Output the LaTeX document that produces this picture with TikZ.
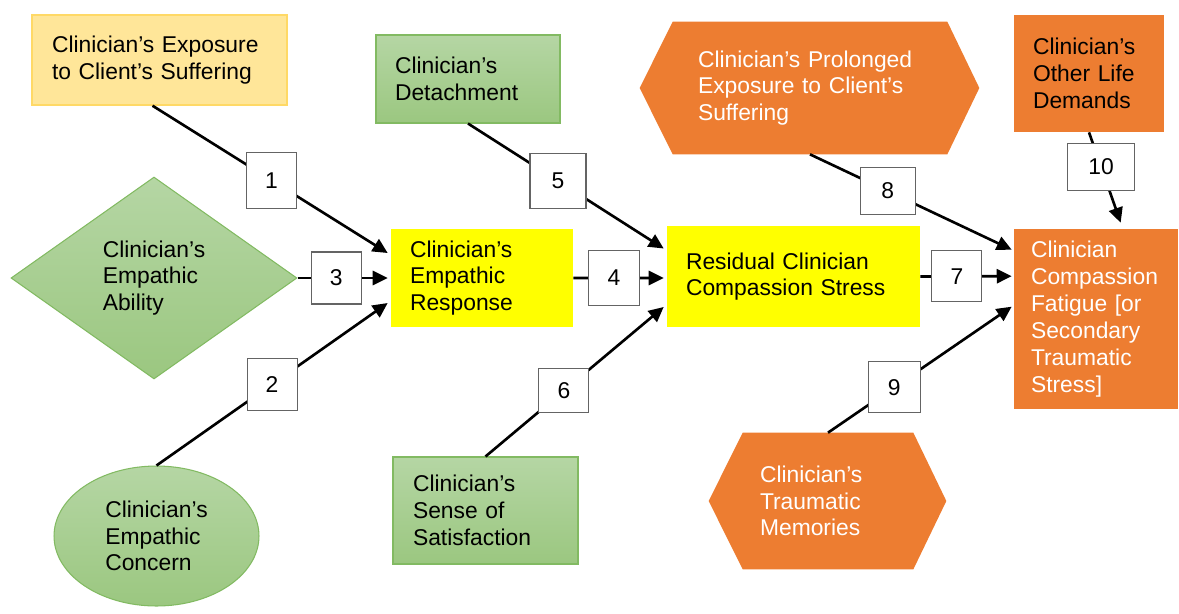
\documentclass[tikz,border=0pt]{standalone}
\usepackage{fontspec}
\setmainfont{Liberation Sans}
\usetikzlibrary{shapes.geometric,arrows.meta,calc}
\pgfdeclarelayer{bg}
\pgfsetlayers{bg,main}
\definecolor{cexp}{RGB}{255,230,153}
\definecolor{cexpb}{RGB}{255,217,102}
\definecolor{gtop}{RGB}{181,214,164}
\definecolor{gbot}{RGB}{155,199,128}
\definecolor{gbord}{RGB}{130,186,98}
\definecolor{cyel}{RGB}{255,255,0}
\definecolor{corg}{RGB}{237,125,49}
\definecolor{cnum}{RGB}{100,100,100}
\hyphenpenalty=10000
\exhyphenpenalty=10000
\begin{document}
\begin{tikzpicture}[x=0.02cm,y=-0.02cm,
  every node/.style={font=\fontsize{13pt}{15.2pt}\selectfont},
  box/.style={rectangle, align=left, inner ysep=0pt},
  greenfill/.style={top color=gtop, bottom color=gbot, draw=gbord, line width=0.6pt},
  expbox/.style={box, fill=cexp, draw=cexpb, line width=0.8pt},
  greenbox/.style={box, greenfill},
  yelbox/.style={box, fill=cyel},
  orgbox/.style={box, fill=corg},
  hexbox/.style={box, text=white},
  numbox/.style={draw=cnum, fill=white, line width=0.6pt, minimum width=1cm, minimum height=1.04cm, inner sep=0pt, text=black},
  conn/.style={line width=1.5pt, -{Triangle[length=8.5pt,width=8pt]}}]
\useasboundingbox (0,0) rectangle (1179,613);

% main nodes
\node[expbox, minimum height=1.8cm, inner xsep=0.4cm, text width=4.3cm] (exp) at (159.5,60) {Clinician’s Exposure\\to Client’s Suffering};
\node[greenbox, minimum height=1.76cm, inner xsep=0.38cm, text width=2.92cm] (det) at (468,79) {Clinician’s\\Detachment};
\node[diamond, greenfill, minimum width=5.72cm, minimum height=4.04cm, inner sep=0pt, align=left] (dia) at (154,278) {Clinician’s\\Empathic\\Ability};
\node[ellipse, greenfill, minimum width=4.1cm, minimum height=2.8cm, inner sep=0pt, align=left] (ell) at (156.5,536) {Clinician’s\\Empathic\\Concern};
\node[yelbox, minimum height=1.96cm, inner xsep=0.38cm, text width=2.88cm] (resp) at (482,278) {Clinician’s\\Empathic\\Response};
\node[yelbox, minimum height=2.02cm, inner xsep=0.38cm, text width=4.3cm] (stress) at (793.5,276.5) {Residual Clinician\\Compassion Stress};
\node[greenbox, minimum height=2.14cm, inner xsep=0.4cm, text width=2.9cm] (sat) at (485.5,510.5) {Clinician’s\\Sense of\\Satisfaction};
\node[hexbox, minimum height=2.64cm, inner xsep=0.5cm, text width=4.48cm] (prol) at (810,88) {Clinician’s Prolonged\\Exposure to Client’s\\Suffering};
\node[hexbox, minimum height=2.72cm, inner xsep=0.34cm, text width=2.72cm] (trau) at (828,501) {Clinician’s\\Traumatic\\Memories};
\node[orgbox, minimum height=2.34cm, inner xsep=0.38cm, text width=2.24cm] (oth) at (1089,73.5) {Clinician’s\\Other Life\\Demands};
\node[orgbox, text=white, minimum height=3.6cm, inner xsep=0.34cm, text width=2.6cm, font=\fontsize{13pt}{15.4pt}\selectfont] (fat) at (1096,319) {Clinician\\Compassion\\Fatigue [or\\Secondary\\Traumatic\\Stress]};

\begin{pgfonlayer}{bg}
\fill[corg] (prol.north west) -- (prol.north east) -- ($(prol.east)+(32,0)$) -- (prol.south east) -- (prol.south west) -- ($(prol.west)+(-33,0)$) -- cycle;
\fill[corg] (trau.north west) -- (trau.north east) -- ($(trau.east)+(33,0)$) -- (trau.south east) -- (trau.south west) -- ($(trau.west)+(-34,0)$) -- cycle;
\end{pgfonlayer}

% connectors with numbered boxes
\draw[conn] ($(exp.south)+(-7,0)$) -- node[numbox, pos=0.506, minimum height=1.12cm]{1} ($(resp.west)+(-3,-25)$);
\draw[conn] (dia.east) -- node[numbox, pos=0.43]{3} ($(resp.west)+(-3,0)$);
\draw[conn] (ell.north) -- node[numbox, pos=0.5]{2} ($(resp.west)+(-3,25)$);
\draw[conn] (det.south) -- node[numbox, pos=0.46, minimum width=1.12cm, minimum height=1.1cm]{5} ($(stress.west)+(-3,-28)$);
\draw[conn] (resp.east) -- node[numbox, pos=0.45, minimum width=1.02cm, minimum height=1.1cm]{4} ($(stress.west)+(-3,1.5)$);
\draw[conn] (sat.north) -- node[numbox, pos=0.44, minimum height=0.88cm]{6} ($(stress.west)+(-3,30.5)$);
\draw[conn] (stress.east) -- node[numbox, pos=0.40, minimum height=1.02cm]{7} ($(fat.north west)+(-2,47.5)$);
\draw[conn] (prol.south) -- node[numbox, pos=0.385, minimum width=1.1cm, minimum height=0.94cm]{8} ($(fat.north west)+(-2,21)$);
\draw[conn] (trau.north) -- node[numbox, pos=0.36, minimum width=1.04cm, minimum height=1.02cm]{9} ($(fat.north west)+(-2,78)$);
\draw[conn] (oth.south) -- node[numbox, pos=0.38, minimum width=1.34cm, minimum height=0.94cm]{10} ($(fat.north west)+(107,-6)$);
\end{tikzpicture}
\end{document}
